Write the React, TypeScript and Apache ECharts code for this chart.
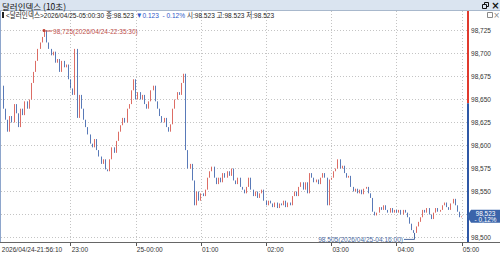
import React, { useEffect, useRef } from "react";
import * as echarts from "echarts";

const TITLE = "달러인덱스 (10초)";
const INFO_HEAD = "<달러인덱스>2026/04/25-05:00:30 종:98.523 ";
const INFO_CHANGE = "▼0.123  - 0.12%";
const INFO_TAIL = " 시:98.523 고:98.523 저:98.523";
const START_LABEL = "2026/04/24-21:56:10";

// minutes since 2026/04/24 00:00
const START_MIN = 21 * 60 + 56 + 10 / 60;
const STEP_MIN = 2;
const CLOSES = [
  98.665, 98.640, 98.628, 98.615, 98.632, 98.625, 98.645, 98.635, 98.620, 98.640, 98.633, 98.648, 98.640, 98.650, 98.668, 98.680, 98.692, 98.705, 98.712, 98.718, 98.725,
  98.712, 98.705, 98.698, 98.702, 98.690, 98.694, 98.680, 98.692, 98.685, 98.688, 98.672, 98.662, 98.655, 98.705, 98.630, 98.655, 98.640, 98.628, 98.620, 98.612,
  98.602, 98.598, 98.607, 98.595, 98.588, 98.580, 98.585, 98.574, 98.572, 98.585, 98.598, 98.592, 98.605, 98.615, 98.622, 98.630, 98.625, 98.640, 98.645, 98.660,
  98.672, 98.650, 98.658, 98.650, 98.655, 98.645, 98.640, 98.648, 98.660, 98.665, 98.648, 98.640, 98.632, 98.625, 98.630, 98.620, 98.615, 98.623, 98.640, 98.650,
  98.658, 98.655, 98.668, 98.678, 98.595, 98.575, 98.580, 98.562, 98.535, 98.550, 98.540, 98.548, 98.545, 98.552, 98.565, 98.572, 98.577, 98.565, 98.558, 98.565,
  98.560, 98.570, 98.565, 98.572, 98.567, 98.575, 98.562, 98.558, 98.565, 98.555, 98.552, 98.548, 98.555, 98.565, 98.552, 98.545, 98.550, 98.543, 98.548, 98.552,
  98.540, 98.535, 98.540, 98.537, 98.533, 98.538, 98.532, 98.537, 98.535, 98.540, 98.533, 98.538, 98.535, 98.545, 98.550, 98.545, 98.555, 98.560, 98.552, 98.560,
  98.548, 98.570, 98.565, 98.560, 98.563, 98.558, 98.565, 98.570, 98.565, 98.535, 98.563, 98.565, 98.572, 98.575, 98.585, 98.575, 98.578, 98.570, 98.565, 98.567,
  98.555, 98.550, 98.553, 98.548, 98.552, 98.547, 98.553, 98.555, 98.548, 98.543, 98.528, 98.524, 98.527, 98.533, 98.530, 98.535, 98.530, 98.527, 98.532, 98.527,
  98.530, 98.527, 98.530, 98.525, 98.530, 98.527, 98.522, 98.515, 98.508, 98.505, 98.512, 98.517, 98.522, 98.530, 98.527, 98.532, 98.525, 98.520, 98.527, 98.532,
  98.528, 98.530, 98.535, 98.538, 98.533, 98.530, 98.537, 98.542, 98.535, 98.528, 98.522, 98.523,
];
const PREV_CLOSE = 98.646;
const LAST_PRICE = 98.523;
const LAST_PRICE_TEXT = "98,523";
const LAST_PCT_TEXT = "- 0,12%";
const HIGH_TIME = 22 * 60 + 35.5;
const HIGH_VALUE = 98.725;
const HIGH_LABEL = "98,725(2026/04/24-22:35:30)";
const LOW_TIME = 28 * 60 + 16;
const LOW_VALUE = 98.505;
const LOW_LABEL = "98,505(2026/04/25-04:16:00)";

const Y_GRID = [98.5, 98.525, 98.55, 98.575, 98.6, 98.625, 98.65, 98.675, 98.7, 98.725];
const Y_LABELS = [98.5, 98.55, 98.575, 98.6, 98.625, 98.65, 98.675, 98.7, 98.725];
const HOUR_TICKS = [1380, 1440, 1500, 1560, 1620, 1680, 1740];

const X_MIN = 1315.9;
const X_MAX = 1745.7;
const Y_MIN = 98.4951;
const Y_MAX = 98.7462;

const RED = "#d4483e";
const BLUE = "#2f58a6";
const FONT = "'Liberation Sans', 'Noto Sans CJK KR', sans-serif";
const SX = 0.82;

const hourLabel = (v: number) => {
  const hr = Math.round(v / 60);
  if (hr === 24) return "25-00:00";
  return String(hr % 24).padStart(2, "0") + ":00";
};
const priceLabel = (v: number) => v.toFixed(3).replace(".", ",");

export default function App() {
  const ref = useRef<HTMLDivElement>(null);
  useEffect(() => {
    if (!ref.current) return;
    const chart = echarts.init(ref.current, null, { renderer: "svg" });
    const candles = CLOSES.map((c, i) => {
      const o = i === 0 ? c : CLOSES[i - 1];
      return [START_MIN + i * STEP_MIN, o, c, Math.min(o, c), Math.max(o, c)];
    });
    chart.setOption({
      animation: false,
      backgroundColor: "#ffffff",
      grid: { left: 1, right: 32, top: 11, bottom: 14 },
      xAxis: {
        type: "value",
        min: X_MIN,
        max: X_MAX,
        axisLine: { show: false },
        axisTick: {
          show: true,
          customValues: HOUR_TICKS,
          length: 4,
          lineStyle: { color: "#555" },
        },
        axisLabel: { show: false },
        splitLine: { show: true, lineStyle: { color: "#c4c4c4", type: [1, 2] } },
      },
      yAxis: {
        type: "value",
        position: "right",
        min: Y_MIN,
        max: Y_MAX,
        axisLine: { show: false },
        axisTick: { show: false, customValues: Y_GRID },
        axisLabel: { show: false },
        splitLine: { show: true, lineStyle: { color: "#c4c4c4", type: [1, 2] } },
      },
      series: [
        {
          type: "candlestick",
          data: candles,
          encode: { x: 0, y: [1, 2, 3, 4] },
          barWidth: 1,
          itemStyle: {
            color: RED,
            color0: BLUE,
            borderColor: RED,
            borderColor0: BLUE,
            borderWidth: 0.8,
          },
        },
      ],
    });

    const p = (t: number, v: number) =>
      chart.convertToPixel({ xAxisIndex: 0, yAxisIndex: 0 }, [t, v]) as number[];
    const [, yTop] = p(X_MIN, Y_MAX);
    const [xR, yBot] = p(X_MAX, Y_MIN);
    const xStart = p(START_MIN, Y_MIN)[0];
    const yPrev = p(X_MAX, PREV_CLOSE)[1];
    const yLast = p(X_MAX, LAST_PRICE)[1];
    const hi = p(HIGH_TIME, HIGH_VALUE);
    const lo = p(LOW_TIME, LOW_VALUE);

    const small = (x: number, y: number, text: string, extra: any = {}) => ({
      type: "text",
      z: 101,
      x,
      y,
      scaleX: SX,
      style: { text, fontSize: 8, fontFamily: FONT, fill: "#333", verticalAlign: "middle", ...extra },
    });

    const xLabels = [
      small(xStart + 0.5, yBot + 7, START_LABEL),
      ...HOUR_TICKS.map((t) => small(p(t, Y_MIN)[0] + 1, yBot + 7, hourLabel(t))),
    ];
    const yLabels = Y_LABELS.map((v) => small(xR + 3, p(X_MAX, v)[1], priceLabel(v)));

    chart.setOption({
      graphic: [
        { type: "rect", z: 100, shape: { x: 0, y: 0, width: 500, height: 10 }, style: { fill: "#dae4f0" } },
        { type: "line", z: 100, shape: { x1: 0, y1: 10.5, x2: 500, y2: 10.5 }, style: { stroke: "#a8b8cc", lineWidth: 1 } },
        { type: "text", z: 101, x: 2, y: 5.5, style: { text: TITLE, fontSize: 8.5, fontFamily: "'Noto Sans CJK KR', sans-serif", fill: "#111", verticalAlign: "middle" } },
        { type: "rect", z: 101, shape: { x: 484.5, y: 2.5, width: 4, height: 4 }, style: { fill: "none", stroke: "#111", lineWidth: 1 } },
        { type: "rect", z: 101, shape: { x: 482.5, y: 4.5, width: 4, height: 4 }, style: { fill: "#dae4f0", stroke: "#111", lineWidth: 1 } },
        { type: "text", z: 101, x: 495.5, y: 5.5, style: { text: "×", fontSize: 10, fontWeight: "bold", fontFamily: "'DejaVu Sans', sans-serif", fill: "#111", align: "center", verticalAlign: "middle" } },
        { type: "rect", z: 101, shape: { x: 487.5, y: 12.5, width: 5, height: 5 }, style: { fill: "none", stroke: "#888", lineWidth: 1 } },
        { type: "text", z: 101, x: 496.5, y: 15, style: { text: "×", fontSize: 8, fontFamily: "'DejaVu Sans', sans-serif", fill: "#888", align: "center", verticalAlign: "middle" } },
        { type: "rect", z: 101, shape: { x: 2, y: 12, width: 2, height: 6 }, style: { fill: "#222" } },
        {
          type: "text",
          z: 101,
          x: 6,
          y: 15.5,
          scaleX: SX,
          style: {
            text: `{a|${INFO_HEAD}}{b|${INFO_CHANGE}}{a|${INFO_TAIL}}`,
            verticalAlign: "middle",
            rich: {
              a: { fontSize: 8, fontFamily: FONT, fill: "#222" },
              b: { fontSize: 8, fontFamily: FONT, fill: "#2f58c8" },
            },
          },
        },
        ...xLabels,
        ...yLabels,
        { type: "line", z: 100, shape: { x1: 0.5, y1: yTop, x2: 0.5, y2: yBot }, style: { stroke: "#8ea6cc", lineWidth: 1 } },
        { type: "line", z: 100, shape: { x1: 0, y1: yBot + 0.5, x2: 500, y2: yBot + 0.5 }, style: { stroke: "#666", lineWidth: 1 } },
        { type: "line", z: 100, shape: { x1: xR, y1: yTop, x2: xR, y2: yPrev }, style: { stroke: "#e03a2e", lineWidth: 2 } },
        { type: "line", z: 100, shape: { x1: xR, y1: yPrev, x2: xR, y2: yBot }, style: { stroke: "#2f58a6", lineWidth: 2 } },
        // high annotation
        { type: "circle", z: 102, shape: { cx: hi[0], cy: hi[1], r: 1.5 }, style: { fill: "#c0392b" } },
        { type: "line", z: 102, shape: { x1: hi[0], y1: hi[1] + 0.5, x2: hi[0] + 8, y2: hi[1] + 0.5 }, style: { stroke: "#c0504d", lineWidth: 1 } },
        small(hi[0] + 9, hi[1] + 0.5, HIGH_LABEL, { fill: "#c0504d" }),
        // low annotation
        { type: "polyline", z: 102, shape: { points: [[lo[0] + 0.5, lo[1]], [lo[0] + 0.5, lo[1] + 6.5], [lo[0] - 10, lo[1] + 6.5]] }, style: { stroke: "#4a6aa0", lineWidth: 1, fill: "none" } },
        small(lo[0] - 11, lo[1] + 6.5, LOW_LABEL, { fill: "#4a6aa0", align: "right" }),
        // last price tag
        {
          type: "polygon",
          z: 103,
          shape: { points: [[xR - 1, yLast], [xR + 3, yLast - 6.5], [500, yLast - 6.5], [500, yLast + 6.5], [xR + 3, yLast + 6.5]] },
          style: { fill: "#3a64aa" },
        },
        { type: "text", z: 104, x: 485.5, y: yLast - 3.2, style: { text: LAST_PRICE_TEXT, fontSize: 6.4, fontFamily: FONT, fill: "#fff", align: "center", verticalAlign: "middle" } },
        { type: "text", z: 104, x: 485.5, y: yLast + 3.3, style: { text: LAST_PCT_TEXT, fontSize: 6.4, fontFamily: FONT, fill: "#fff", align: "center", verticalAlign: "middle" } },
      ],
    });
    return () => chart.dispose();
  }, []);
  return (
    <div
      ref={ref}
      style={{ position: "fixed", left: 0, top: 0, width: 500, height: 256 }}
    />
  );
}
